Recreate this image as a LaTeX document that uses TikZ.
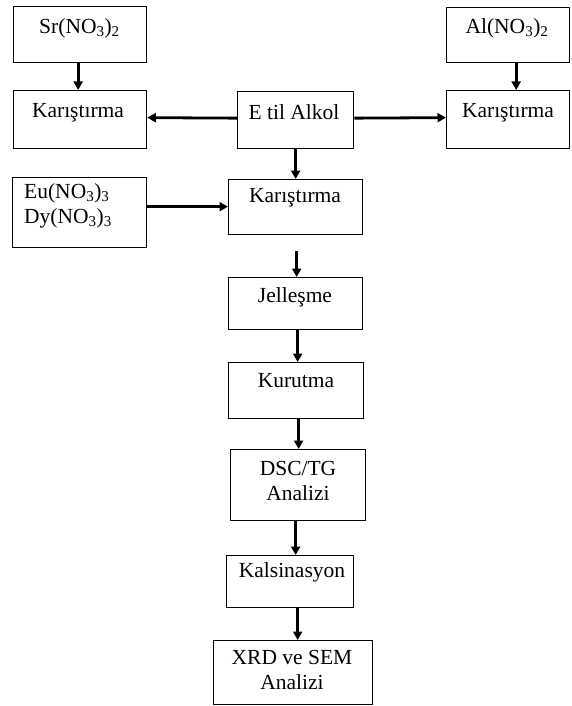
\documentclass[tikz,border=0pt]{standalone}
\usepackage{fontspec}
\setmainfont{Liberation Serif}
\usetikzlibrary{arrows.meta}
\begin{document}
\begin{tikzpicture}[x=1pt,y=-1pt,
  box/.style={draw, line width=1.3pt, inner sep=0pt, anchor=north west},
  txt/.style={font=\fontsize{21.5}{25}\selectfont, inner sep=0pt, align=center},
  arr/.style={line width=2.8pt, -{Triangle[length=8.5pt,width=9pt]}}]
\useasboundingbox (0,0) rectangle (571,706);
% boxes
\node[box, minimum width=133pt, minimum height=56pt] (sr) at (13,6) {};
\node[box, minimum width=133pt, minimum height=58pt] (kl) at (13,90) {};
\node[box, minimum width=116pt, minimum height=57pt] (etil) at (237,91) {};
\node[box, minimum width=123pt, minimum height=55pt] (al) at (446,7) {};
\node[box, minimum width=123pt, minimum height=58pt] (kr) at (446,90) {};
\node[box, minimum width=134pt, minimum height=70pt] (eu) at (12,177) {};
\node[box, minimum width=134pt, minimum height=55pt] (kc) at (228,179) {};
\node[box, minimum width=134pt, minimum height=52pt] (jel) at (228,277) {};
\node[box, minimum width=135pt, minimum height=56pt] (kur) at (228,362) {};
\node[box, minimum width=135pt, minimum height=71pt] (dsc) at (230,449) {};
\node[box, minimum width=127pt, minimum height=52pt] (kal) at (226,555) {};
\node[box, minimum width=159pt, minimum height=64pt] (xrd) at (213,640) {};
% texts
\node[txt] (tsr) at (79.5,28) {Sr(NO\textsubscript{3})\textsubscript{2}};
\node[txt] (tkl) at (78,113) {Karıştırma};
\node[txt] (tetil) at (294,112) {E til Alkol};
\node[txt] (tal) at (507,28) {Al(NO\textsubscript{3})\textsubscript{2}};
\node[txt] (tkr) at (508,113) {Karıştırma};
\node[txt, align=left, anchor=west] (teu) at (24,206) {Eu(NO\textsubscript{3})\textsubscript{3}\\Dy(NO\textsubscript{3})\textsubscript{3}};
\node[txt] (tkc) at (295,198) {Karıştırma};
\node[txt] (tjel) at (295,297) {Jelleşme};
\node[txt] (tkur) at (296,381) {Kurutma};
\node[txt] (tdsc) at (298,481) {DSC/TG\\Analizi};
\node[txt] (tkal) at (292,572) {Kalsinasyon};
\node[txt] (txrd) at (292,670) {XRD ve SEM\\Analizi};
% arrows
\draw[arr] ([xshift=-2pt]sr.south) -- ([xshift=-2pt]kl.north);
\draw[arr] ([xshift=8pt]al.south) -- ([xshift=8pt]kr.north);
\draw[arr] ([yshift=2pt]etil.west) -- ([yshift=2pt]kl.east);
\draw[arr] ([yshift=2pt]etil.east) -- ([yshift=2pt]kr.west);
\draw[arr] (etil.south) -- (etil.south |- kc.north);
\draw[arr] ([yshift=6pt]eu.east) -- ([yshift=6pt]eu.east -| kc.west);
\draw[arr, shorten <=16pt] ([xshift=1pt]kc.south) -- ([xshift=1pt]kc.south |- jel.north);
\draw[arr] ([xshift=2pt]jel.south) -- ([xshift=2pt]jel.south |- kur.north);
\draw[arr] ([xshift=3pt]jel.south |- kur.south) -- ([xshift=3pt]jel.south |- dsc.north);
\draw[arr] (jel.south |- dsc.south) -- (jel.south |- kal.north);
\draw[arr] ([xshift=2pt]jel.south |- kal.south) -- ([xshift=2pt]jel.south |- xrd.north);
\end{tikzpicture}
\end{document}
